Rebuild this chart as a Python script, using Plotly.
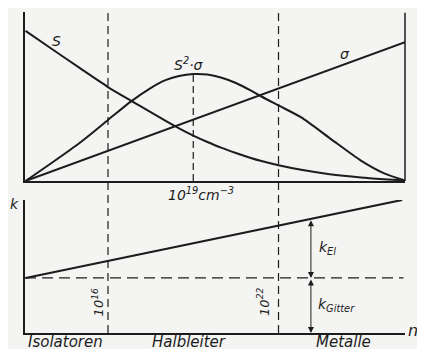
import plotly.graph_objects as go

# x = log10(n / cm^-3)
n_log = [13.1, 14, 15, 16, 16.8, 17.5, 18, 18.5, 19, 19.5, 20, 20.5, 21, 21.4,
         22, 22.8, 23.8, 24.9, 25.7, 26.45]
S = [0.888, 0.784, 0.669, 0.556, 0.476, 0.408, 0.359, 0.312, 0.269, 0.231,
     0.196, 0.166, 0.138, 0.118, 0.093, 0.066, 0.040, 0.021, 0.011, 0.003]
S2_sigma = [0.0, 0.105, 0.225, 0.361, 0.470, 0.550, 0.595, 0.621, 0.633, 0.630,
            0.611, 0.580, 0.538, 0.500, 0.447, 0.376, 0.254, 0.121, 0.047, 0.003]
sigma_x = [13.1, 26.45]
sigma = [0.0, 0.822]

# thermal conductivity, lower panel
k_x = [13.1, 26.35]
k_total = [0.414, 1.0]
k_gitter = 0.414
k_arrow_x = 23.14

borders_log = [16, 22]
border_labels = ["10<sup>16</sup>", "10<sup>22</sup>"]
border_label_shift = [-10, -15]
regions = ["Isolatoren", "Halbleiter", "Metalle"]
region_x = [14.52, 18.85, 24.27]

INK = "#1c1c1c"
BG = "#f4f4f2"
X_RANGE = [13.08, 26.45]

fig = go.Figure()

line = dict(color=INK, width=2, shape="spline", smoothing=0.7)
fig.add_trace(go.Scatter(x=n_log, y=S, mode="lines", line=line, xaxis="x2", yaxis="y2"))
fig.add_trace(go.Scatter(x=n_log, y=S2_sigma, mode="lines", line=line, xaxis="x2", yaxis="y2"))
fig.add_trace(go.Scatter(x=sigma_x, y=sigma, mode="lines", line=dict(color=INK, width=2),
                         xaxis="x2", yaxis="y2"))

# peak of S^2*sigma
i_peak = S2_sigma.index(max(S2_sigma))
fig.add_trace(go.Scatter(x=[n_log[i_peak], n_log[i_peak]], y=[0, S2_sigma[i_peak]], mode="lines",
                         line=dict(color=INK, width=1.2, dash="7px,4px"), xaxis="x2", yaxis="y2"))

# lower panel
fig.add_trace(go.Scatter(x=k_x, y=k_total, mode="lines", line=dict(color=INK, width=2),
                         xaxis="x", yaxis="y"))
fig.add_trace(go.Scatter(x=[X_RANGE[0], 26.4], y=[k_gitter, k_gitter], mode="lines",
                         line=dict(color=INK, width=1.2, dash="11px,6px"), xaxis="x", yaxis="y"))

# region borders across both panels
for b in borders_log:
    fig.add_shape(type="line", xref="x", yref="paper", x0=b, x1=b, y0=0, y1=0.995,
                  line=dict(color=INK, width=1.2, dash="8px,5px"))

# right border of upper panel
fig.add_shape(type="line", xref="x2 domain", yref="y2 domain", x0=1, x1=1, y0=0, y1=0.995,
              line=dict(color=INK, width=1.5))

k_at_arrow = k_total[0] + (k_arrow_x - k_x[0]) / (k_x[1] - k_x[0]) * (k_total[1] - k_total[0])
for y_a, y_b in [(k_at_arrow, k_gitter), (k_gitter, 0)]:
    fig.add_annotation(x=k_arrow_x, y=y_b, ax=k_arrow_x, ay=y_a, xref="x", yref="y",
                       axref="x", ayref="y", showarrow=True, arrowhead=2, arrowside="end+start",
                       arrowsize=1.2, arrowwidth=1, arrowcolor=INK, text="")

txt = dict(showarrow=False, font=dict(size=14, color=INK))
fig.add_annotation(x=14.2, y=0.83, xref="x2", yref="y2", text="S", **txt)
fig.add_annotation(x=18.85, y=0.69, xref="x2", yref="y2", text="S<sup>2</sup>·σ", **txt)
fig.add_annotation(x=24.35, y=0.75, xref="x2", yref="y2", text="σ", **txt)
fig.add_annotation(x=19.27, y=0, xref="x2", yref="y2", yanchor="top", yshift=-2,
                   text="10<sup>19</sup>cm<sup>−3</sup>", **txt)
fig.add_annotation(x=13.1, y=0.97, xref="x", yref="y", xshift=-11, text="k", **txt)
fig.add_annotation(x=k_arrow_x, y=(k_at_arrow + k_gitter) / 2, xref="x", yref="y", xshift=6,
                   xanchor="left", text="k<sub>El</sub>", **txt)
fig.add_annotation(x=k_arrow_x, y=k_gitter / 2, xref="x", yref="y", xshift=5,
                   xanchor="left", text="k<sub>Gitter</sub>", **txt)
for b, lab, dx in zip(borders_log, border_labels, border_label_shift):
    fig.add_annotation(x=b, y=0.23, xref="x", yref="y", xshift=dx, textangle=-90, text=lab,
                       showarrow=False, font=dict(size=13, color=INK))
for rx, lab in zip(region_x, regions):
    fig.add_annotation(x=rx, y=0, xref="x", yref="y", yanchor="top", yshift=2, text=lab,
                       showarrow=False, font=dict(size=15, color=INK))
fig.add_annotation(x=1.0, y=0, xref="paper", yref="y", xanchor="left", xshift=1, yshift=3,
                   text="n", showarrow=False, font=dict(size=16, color=INK))

axis = dict(showline=True, linecolor=INK, linewidth=1.5, showgrid=False, zeroline=False,
            showticklabels=False, ticks="")
# the page body adds 8px around the figure, so margins are shifted by that
fig.update_layout(
    width=425, height=349,
    margin=dict(l=17, r=28, t=2, b=24),
    paper_bgcolor=BG, plot_bgcolor=BG,
    showlegend=False,
    font=dict(family="DejaVu Sans", style="italic", color=INK),
    xaxis=dict(axis, anchor="y", range=X_RANGE),
    yaxis=dict(axis, anchor="x", domain=[0, 0.412], range=[0, 1.0]),
    xaxis2=dict(axis, anchor="y2", range=X_RANGE, matches="x"),
    yaxis2=dict(axis, anchor="x2", domain=[0.4706, 0.9938], range=[0, 1.0]),
)

fig.write_html("out.html")
